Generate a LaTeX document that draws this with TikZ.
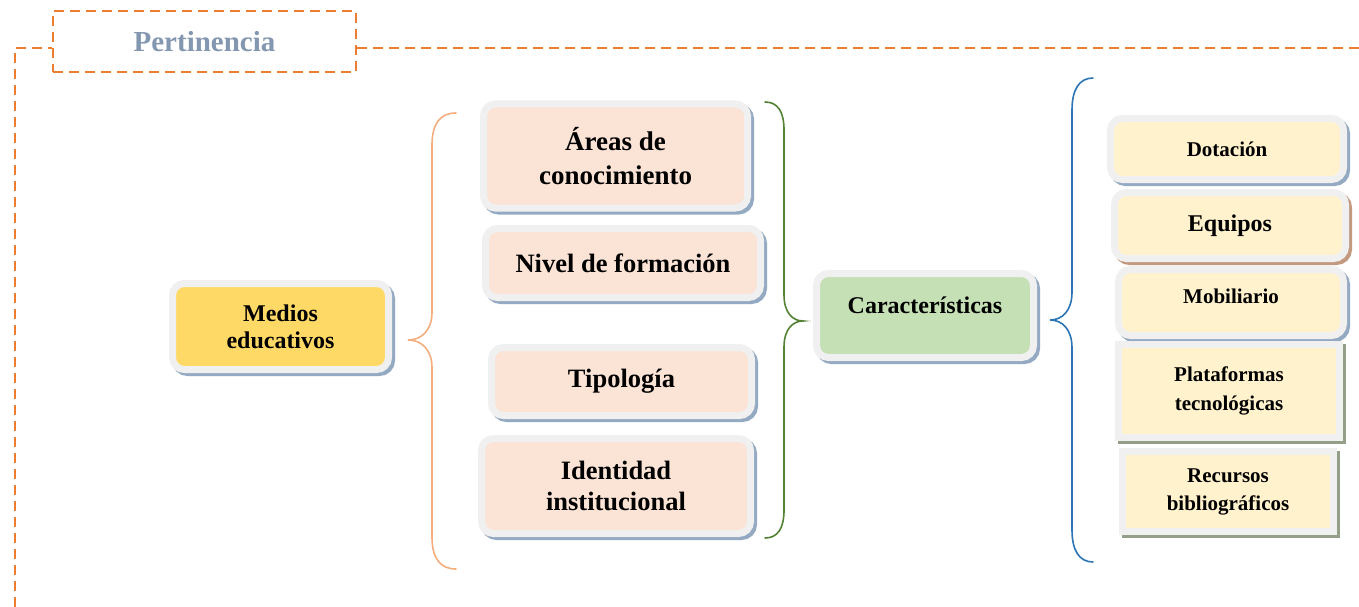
\documentclass[tikz,border=0pt]{standalone}
\usepackage{fontspec}
\setmainfont{Liberation Serif}
\definecolor{frameg}{HTML}{F0F0F0}
\definecolor{shblue}{HTML}{94A9C2}
\definecolor{shbrown}{HTML}{C39A80}
\definecolor{shgreen}{HTML}{939F88}
\definecolor{yel}{HTML}{FFD966}
\definecolor{peach}{HTML}{FBE4D6}
\definecolor{lgreen}{HTML}{C5E0B4}
\definecolor{lyel}{HTML}{FFF2CC}
\definecolor{dorange}{HTML}{ED7D31}
\definecolor{ptext}{HTML}{8497B0}
\definecolor{brorange}{HTML}{F4AE7E}
\definecolor{brgreen}{HTML}{548235}
\definecolor{brblue}{HTML}{2E75B6}
\newcommand{\fs}[2]{\bfseries\fontsize{#1}{#2}\selectfont}
\tikzset{
  cbox/.style={draw=frameg, line width=7pt, rounded corners=12pt, inner sep=0pt, align=center,
    preaction={draw=#1, fill=#1, line width=7pt, transform canvas={shift={(3pt,-3pt)}}}},
  sbox/.style={draw=frameg, line width=7pt, inner sep=0pt, align=center,
    preaction={draw=#1, fill=#1, line width=7pt, transform canvas={shift={(3pt,-3pt)}}}},
  brace/.style={line width=1.6pt, line cap=round}
}
\begin{document}
\begin{tikzpicture}[x=1pt,y=-1pt]
\useasboundingbox[fill=white] (0,0) rectangle (1359,607);
% dashed frame
\node[draw=dorange, dash pattern=on 10pt off 6pt, line width=2.6pt, minimum width=303pt, minimum height=61pt, inner sep=0pt,
  text=ptext, font=\fs{29}{33}] (pert) at (204.5,41.5) {Pertinencia};
\coordinate (fl) at (15,48);
\coordinate (fb) at (15,607);
\coordinate (fr) at (1359,48);
\draw[dorange, dash pattern=on 10pt off 6pt, line width=2.6pt] (fb) -- (fl) -- (fl -| pert.west);
\draw[dorange, dash pattern=on 10pt off 6pt, line width=2.6pt] (fl -| pert.east) -- (fr);
% boxes
\node[cbox=shblue, fill=yel, minimum width=216pt, minimum height=86pt, font=\fs{24}{27}] (med) at (280.5,326.5) {Medios\\educativos};
\node[cbox=shblue, fill=peach, minimum width=264pt, minimum height=104pt, font=\fs{27}{34}] (are) at (615.5,156) {Áreas de\\conocimiento};
\node[cbox=shblue, fill=peach, minimum width=275pt, minimum height=69pt, font=\fs{26.5}{31}] (niv) at (623,263) {Nivel de formación};
\node[cbox=shblue, fill=peach, minimum width=260pt, minimum height=68pt, font=\fs{26.5}{31}] (tip) at (621.5,381.5) {Tipología};
\node[cbox=shblue, fill=peach, minimum width=269pt, minimum height=95pt, font=\fs{26.5}{31}] (ide) at (616,486) {Identidad\\institucional};
\node[cbox=shblue, fill=lgreen, minimum width=217pt, minimum height=84pt, font=\fs{24}{27}, text depth=20pt] (car) at (925,315.5) {Características};
\node[cbox=shblue, fill=lyel, minimum width=233pt, minimum height=61pt, font=\fs{21}{24}] (dot) at (1227,149) {Dotación};
\node[cbox=shbrown, fill=lyel, minimum width=231pt, minimum height=66pt, font=\fs{24}{27}] (equ) at (1230,225.5) {Equipos};
\node[cbox=shblue, fill=lyel, minimum width=225pt, minimum height=66pt, font=\fs{21}{24}, text depth=12pt] (mob) at (1231,302.5) {Mobiliario};
\node[sbox=shgreen, fill=lyel, minimum width=221pt, minimum height=93pt, font=\fs{21}{29}] (pla) at (1229,391) {Plataformas\\tecnológicas};
\node[sbox=shgreen, fill=lyel, minimum width=211pt, minimum height=80pt, font=\fs{21}{28}] (rec) at (1228,491.5) {Recursos\\bibliográficos};
% braces
\draw[brace, brorange] (456,113) .. controls (440,113) and (432,124) .. (432,145) -- (432,312)
  .. controls (432,331) and (421,340) .. (408,340) .. controls (421,340) and (432,349) .. (432,368)
  -- (432,537) .. controls (432,558) and (440,569) .. (456,569);
\draw[brace, brgreen] (765,102) .. controls (778,102) and (784,112) .. (784,130) -- (784,295)
  .. controls (784,313) and (793,321) .. (803,321) .. controls (793,321) and (784,329) .. (784,347)
  -- (784,510) .. controls (784,528) and (778,538) .. (765,538);
\draw[brace, brblue] (1093,78) .. controls (1079,78) and (1072,90) .. (1072,110) -- (1072,292)
  .. controls (1072,311) and (1062,320) .. (1050,320) .. controls (1062,320) and (1072,329) .. (1072,348)
  -- (1072,530) .. controls (1072,550) and (1079,562) .. (1093,562);
\end{tikzpicture}
\end{document}
